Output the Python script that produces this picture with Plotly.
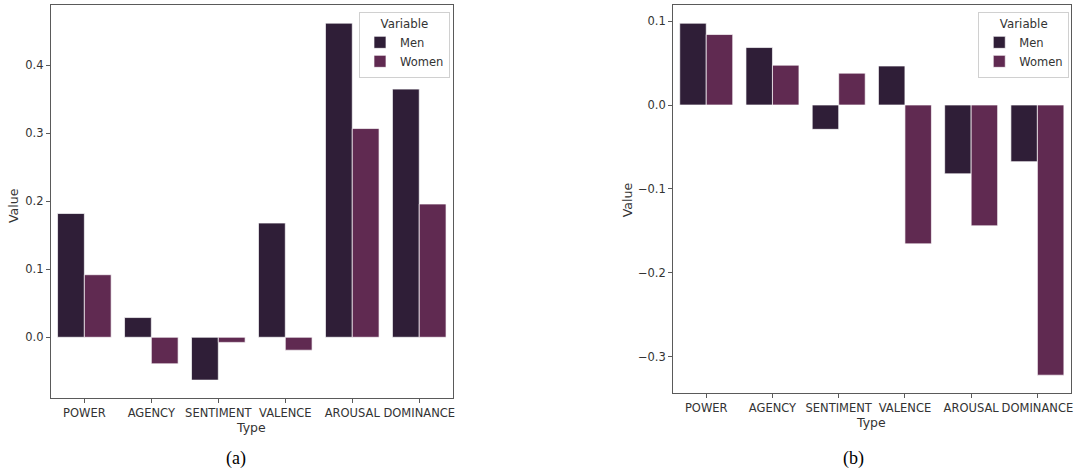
import plotly.graph_objects as go

categories = ["POWER", "AGENCY", "SENTIMENT", "VALENCE", "AROUSAL", "DOMINANCE"]

men_a = [0.182, 0.029, -0.063, 0.168, 0.462, 0.365]
women_a = [0.092, -0.039, -0.0075, -0.019, 0.307, 0.196]

men_b = [0.0975, 0.0685, -0.029, 0.0465, -0.082, -0.0675]
women_b = [0.084, 0.0475, 0.038, -0.1655, -0.144, -0.322]

yticks_a = [0.0, 0.1, 0.2, 0.3, 0.4]
yticks_b = [-0.3, -0.2, -0.1, 0.0, 0.1]

MEN_C = "#2f1e37"
WOMEN_C = "#602a51"
W, H = 1076, 472

def px_x(x):
    return x / W

def px_y(y):
    return (H - y) / H

fig = go.Figure()
line = dict(color="rgba(255,255,255,0.85)", width=0.8)

fig.add_trace(go.Bar(x=categories, y=men_a, name="Men", marker=dict(color=MEN_C, line=line),
                     xaxis="x", yaxis="y", legend="legend"))
fig.add_trace(go.Bar(x=categories, y=women_a, name="Women", marker=dict(color=WOMEN_C, line=line),
                     xaxis="x", yaxis="y", legend="legend"))
fig.add_trace(go.Bar(x=categories, y=men_b, name="Men", marker=dict(color=MEN_C, line=line),
                     xaxis="x2", yaxis="y2", legend="legend2"))
fig.add_trace(go.Bar(x=categories, y=women_b, name="Women", marker=dict(color=WOMEN_C, line=line),
                     xaxis="x2", yaxis="y2", legend="legend2"))

tickfont = dict(family="DejaVu Sans", size=11.5, color="#333333")
axis_common = dict(showline=True, linecolor="#5a5a5a", linewidth=1, mirror=True,
                   ticks="outside", ticklen=4, tickcolor="#5a5a5a", tickwidth=1,
                   tickfont=tickfont, showgrid=False, zeroline=False)

legend_common = dict(xanchor="left", yanchor="top",
                     bgcolor="white", bordercolor="#d0d0d0", borderwidth=1,
                     title=dict(text="Variable", side="top center", font=dict(size=11.8, color="#333333")),
                     font=dict(size=11.5, color="#333333"), itemwidth=30, tracegroupgap=0)

fig.update_layout(
    width=W, height=H,
    margin=dict(l=0, r=0, t=0, b=0),
    paper_bgcolor="white", plot_bgcolor="white",
    barmode="group", bargap=0.2, bargroupgap=0.0,
    font=dict(family="DejaVu Sans", size=11, color="#333333"),
    xaxis=dict(domain=[px_x(51), px_x(454)], anchor="y", range=[-0.5, 5.5], **axis_common),
    yaxis=dict(domain=[px_y(398), px_y(5)], anchor="x", range=[-0.0893, 0.4887],
               tickvals=yticks_a, tickformat=".1f", **axis_common),
    xaxis2=dict(domain=[px_x(675), px_x(1073.5)], anchor="y2", range=[-0.5, 5.5], **axis_common),
    yaxis2=dict(domain=[px_y(393.3), px_y(5)], anchor="x2", range=[-0.3436, 0.1192],
                tickvals=yticks_b, ticktext=["\u22120.3", "\u22120.2", "\u22120.1", "0.0", "0.1"],
                **axis_common),
    legend=dict(x=px_x(360), y=px_y(11.5), **legend_common),
    legend2=dict(x=px_x(981), y=px_y(11.5), **legend_common),
    showlegend=True,
)

annos = [
    dict(text="Value", x=px_x(14), y=px_y(205), textangle=-90, font=dict(size=12.5, color="#333333")),
    dict(text="Type", x=px_x(252), y=px_y(427), font=dict(size=12.5, color="#333333")),
    dict(text="Value", x=px_x(629), y=px_y(200), textangle=-90, font=dict(size=12.5, color="#333333")),
    dict(text="Type", x=px_x(873), y=px_y(422), font=dict(size=12.5, color="#333333")),
    dict(text="(a)", x=px_x(237), y=px_y(458), font=dict(family="Liberation Serif", size=18, color="#000000")),
    dict(text="(b)", x=px_x(856), y=px_y(458), font=dict(family="Liberation Serif", size=18, color="#000000")),
]
for a in annos:
    fig.add_annotation(xref="paper", yref="paper", showarrow=False,
                       xanchor="center", yanchor="middle", **a)

fig.write_html("out.html",
               config={"displayModeBar": False},
               post_script="document.body.style.margin='0';document.body.style.overflow='hidden';")
